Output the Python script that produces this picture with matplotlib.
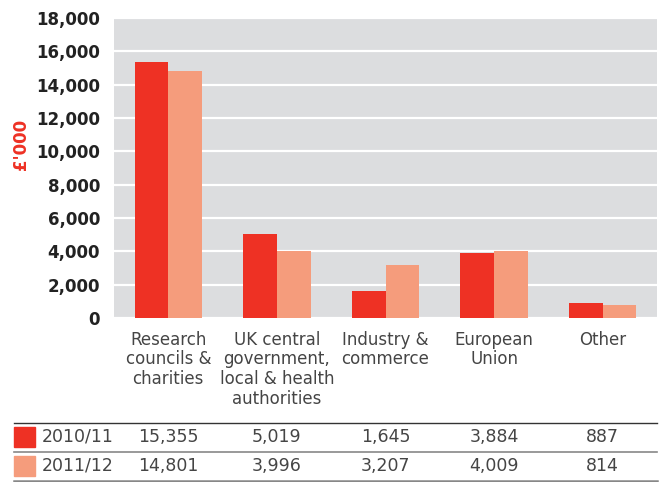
import numpy as np
import matplotlib.pyplot as plt
from matplotlib.patches import Rectangle
from matplotlib.lines import Line2D
from matplotlib.transforms import blended_transform_factory

categories = ['Research\ncouncils &\ncharities',
              'UK central\ngovernment,\nlocal & health\nauthorities',
              'Industry &\ncommerce',
              'European\nUnion',
              'Other']
series_names = ['2010/11', '2011/12']
values_1011 = [15355, 5019, 1645, 3884, 887]
values_1112 = [14801, 3996, 3207, 4009, 814]
yticks = np.arange(0, 18001, 2000)

red = '#ee3124'
salmon = '#f59c7c'
grey_bg = '#dcdddf'
text_col = '#454545'

fig = plt.figure(figsize=(6.59, 4.82), dpi=100)
ax = fig.add_axes([0.173, 0.340, 0.824, 0.623])
ax.set_facecolor(grey_bg)

x = np.arange(len(categories))
w = 0.31
ax.bar(x - w / 2, values_1011, width=w, color=red, zorder=3)
ax.bar(x + w / 2, values_1112, width=w, color=salmon, zorder=3)

ax.set_xlim(-0.5, len(categories) - 0.5)
ax.set_ylim(0, 18000)
ax.set_yticks(yticks)
ax.set_yticklabels([f'{v:,}' for v in yticks], fontsize=12, fontweight='bold', color='#222222')
ax.yaxis.grid(True, color='white', linewidth=1.6, zorder=1)
ax.set_axisbelow(True)
for s in ax.spines.values():
    s.set_visible(False)
ax.tick_params(axis='y', length=0, pad=10)
ax.tick_params(axis='x', length=0, pad=9)
ax.set_xticks(x)
ax.set_xticklabels(categories, fontsize=12, color=text_col, linespacing=1.12)

ax.set_ylabel("£'000", fontsize=12, fontweight='bold', color=red)
ax.yaxis.set_label_coords(-0.155, 0.58)

# data table under the chart: x in data units, y in figure fraction
tr = blended_transform_factory(ax.transData, fig.transFigure)
row_y = [0.0934, 0.0332]
for yy, name, col, vals in zip(row_y, series_names, [red, salmon], [values_1011, values_1112]):
    fig.patches.append(Rectangle((0.021, yy - 0.021), 0.032, 0.042, color=col,
                                 transform=fig.transFigure, figure=fig))
    fig.text(0.064, yy, name, fontsize=12.5, color=text_col, va='center', ha='left')
    for xi, v in zip(x, vals):
        fig.text(xi, yy, f'{v:,}', transform=tr, fontsize=12.5, color=text_col,
                 va='center', ha='center')

for yy, col, lw in [(0.1224, '#333333', 1.0), (0.0622, '#888888', 1.2), (0.003, '#888888', 1.8)]:
    fig.lines.append(Line2D([0.021, 0.997], [yy, yy], color=col, linewidth=lw,
                            transform=fig.transFigure, figure=fig))

fig.savefig('out.png', dpi=100)
